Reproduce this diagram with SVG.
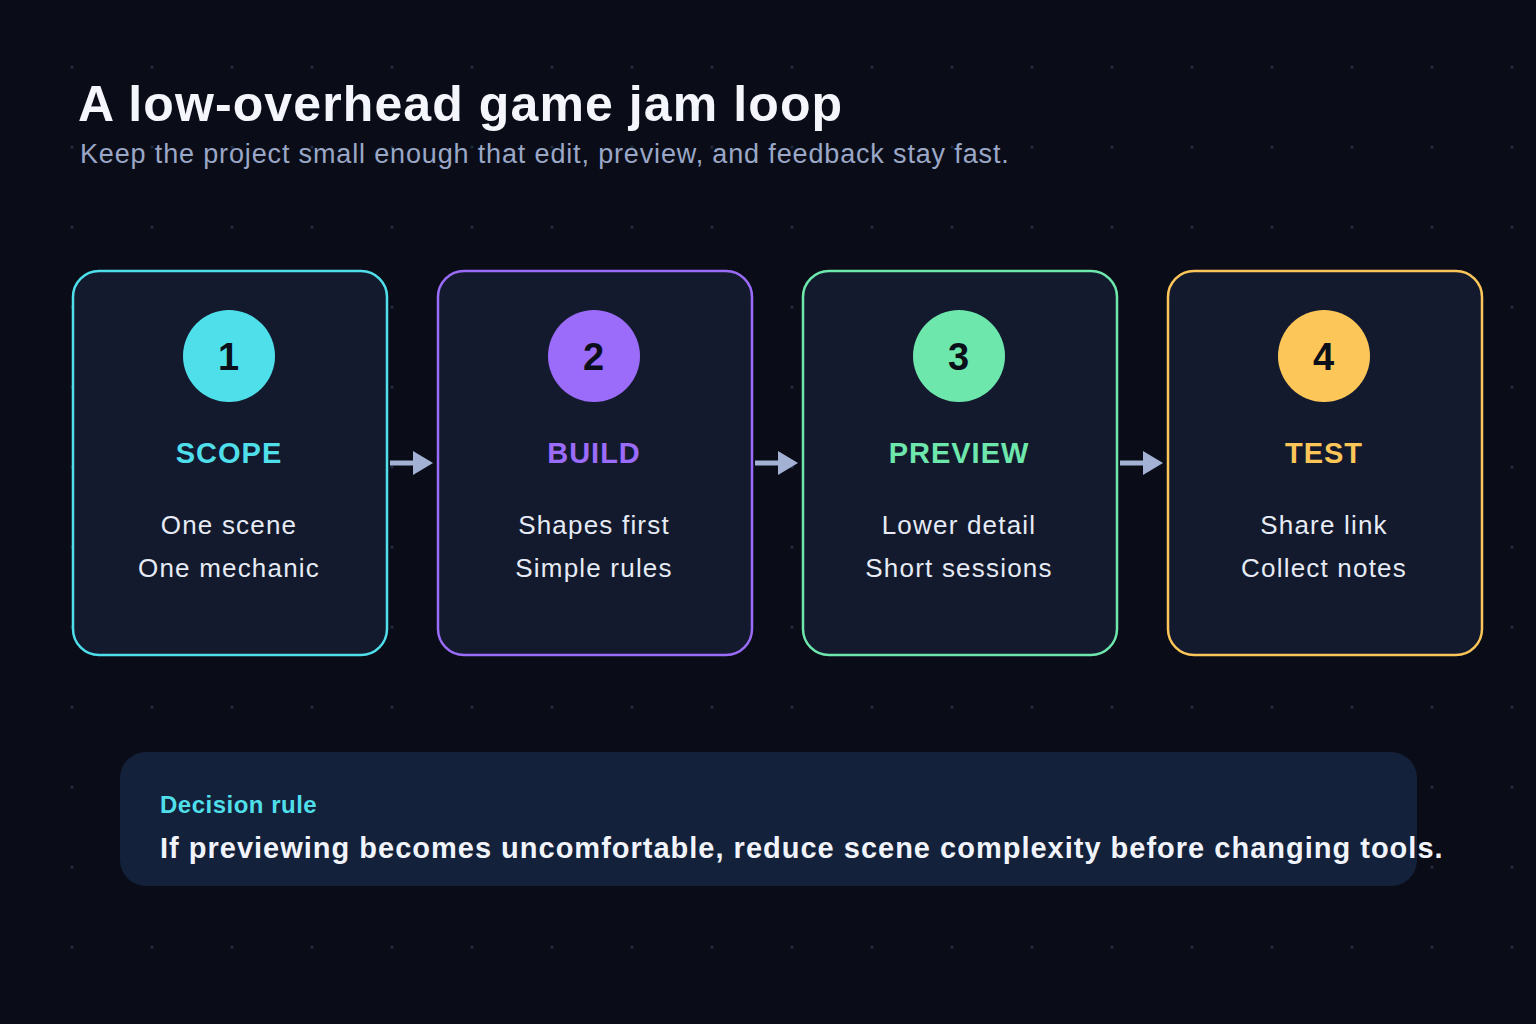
<svg xmlns="http://www.w3.org/2000/svg" width="1536" height="1024" viewBox="0 0 1536 1024">
<defs>
<pattern id="dots" x="32" y="27" width="80" height="80" patternUnits="userSpaceOnUse"><circle cx="40" cy="40" r="1.6" fill="#1f2b42"/></pattern>
</defs>
<style>
text{font-family:"Liberation Sans",Arial,sans-serif;letter-spacing:1px}
.card{fill:#131a2e;stroke-width:2.5}
.num{font-weight:bold;font-size:38px;fill:#0b0f1a;text-anchor:middle}
.ttl{font-weight:bold;font-size:29px;text-anchor:middle}
.body{font-size:26px;fill:#e6ebf5;text-anchor:middle;letter-spacing:1.2px}
.conn{stroke:#a3b1d4;stroke-width:5;fill:none}
</style>
<rect width="1536" height="1024" fill="#0a0d18"/>
<rect width="1536" height="1024" fill="url(#dots)"/>
<text x="78" y="121" font-weight="bold" font-size="50" fill="#f4f6fc" style="letter-spacing:1.1px">A low-overhead game jam loop</text>
<text x="80" y="163" font-size="27" fill="#9aa7c6" style="letter-spacing:0.85px">Keep the project small enough that edit, preview, and feedback stay fast.</text>
<g id="connectors">
<path class="conn" d="M390,463 H415"/><path d="M413,451 L433,463 L413,475 z" fill="#a3b1d4"/>
<path class="conn" d="M755,463 H780"/><path d="M778,451 L798,463 L778,475 z" fill="#a3b1d4"/>
<path class="conn" d="M1120,463 H1145"/><path d="M1143,451 L1163,463 L1143,475 z" fill="#a3b1d4"/>
</g>
<g id="scope">
<rect class="card" x="73" y="271" width="314" height="384" rx="26" stroke="#4fdfea"/>
<circle cx="229" cy="356" r="46" fill="#4fdfea"/><text class="num" x="229" y="370">1</text>
<text class="ttl" x="229" y="463" fill="#4fdfea">SCOPE</text>
<text class="body" x="229" y="534">One scene</text><text class="body" x="229" y="577">One mechanic</text>
</g>
<g id="build">
<rect class="card" x="438" y="271" width="314" height="384" rx="26" stroke="#9b6bfa"/>
<circle cx="594" cy="356" r="46" fill="#9b6bfa"/><text class="num" x="594" y="370">2</text>
<text class="ttl" x="594" y="463" fill="#9b6bfa">BUILD</text>
<text class="body" x="594" y="534">Shapes first</text><text class="body" x="594" y="577">Simple rules</text>
</g>
<g id="preview">
<rect class="card" x="803" y="271" width="314" height="384" rx="26" stroke="#6ee7ad"/>
<circle cx="959" cy="356" r="46" fill="#6ee7ad"/><text class="num" x="959" y="370">3</text>
<text class="ttl" x="959" y="463" fill="#6ee7ad">PREVIEW</text>
<text class="body" x="959" y="534">Lower detail</text><text class="body" x="959" y="577">Short sessions</text>
</g>
<g id="test">
<rect class="card" x="1168" y="271" width="314" height="384" rx="26" stroke="#fcc659"/>
<circle cx="1324" cy="356" r="46" fill="#fcc659"/><text class="num" x="1324" y="370">4</text>
<text class="ttl" x="1324" y="463" fill="#fcc659">TEST</text>
<text class="body" x="1324" y="534">Share link</text><text class="body" x="1324" y="577">Collect notes</text>
</g>
<g id="decision">
<rect x="120" y="752" width="1297" height="134" rx="26" fill="#14213a"/>
<text x="160" y="813" font-weight="bold" font-size="24" fill="#4fdfea" style="letter-spacing:0.5px">Decision rule</text>
<text x="160" y="858" font-weight="bold" font-size="29" fill="#f1f4fa">If previewing becomes uncomfortable, reduce scene complexity before changing tools.</text>
</g>
</svg>
